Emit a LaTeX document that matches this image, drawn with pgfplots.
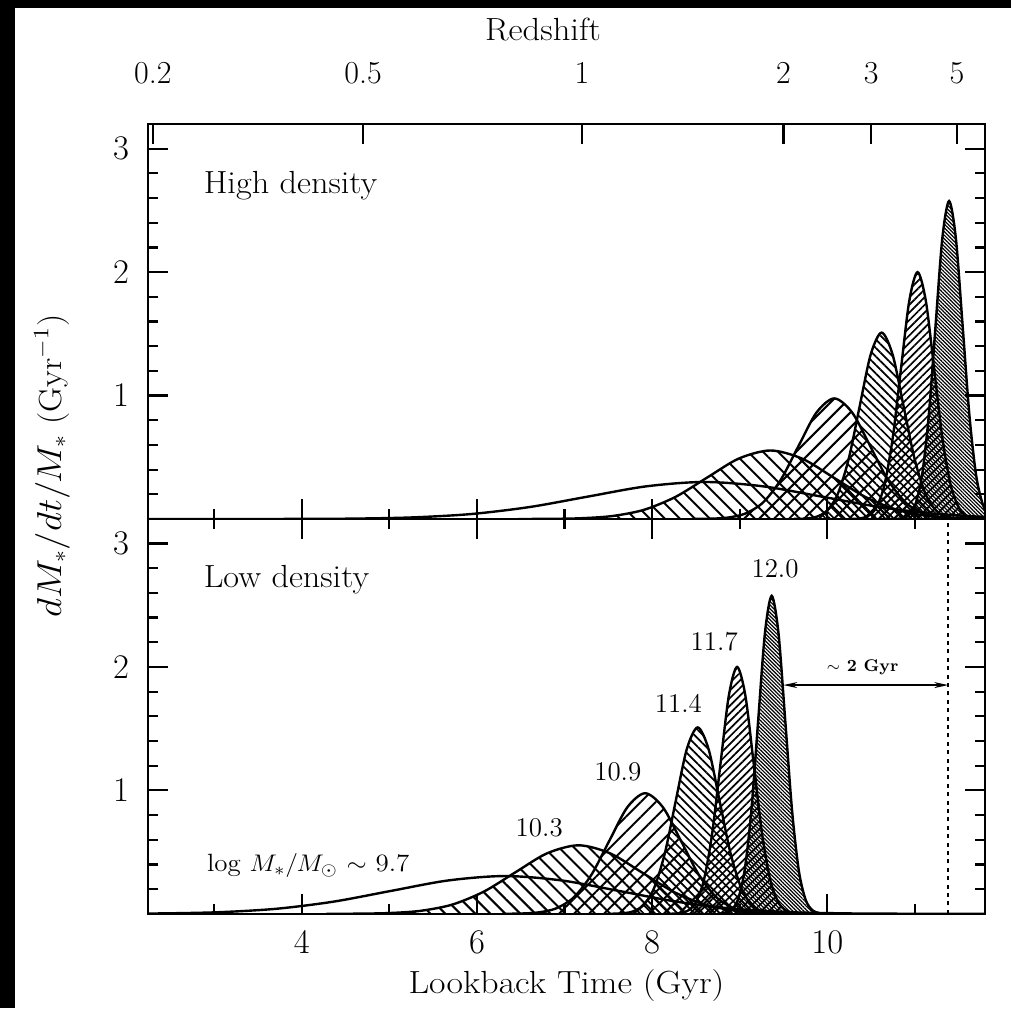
\documentclass[border=0pt]{standalone}
\usepackage{pgfplots}
\pgfplotsset{compat=1.18}
\usepackage{graphicx}
\usetikzlibrary{patterns.meta,arrows.meta}
\newcommand{\lab}{\fontsize{16}{19}\selectfont}
\pgfplotsset{panel/.style={
  scale only axis, width=418.5pt, height=197.5pt,
  xmin=2.245, xmax=11.8, ymin=0, ymax=3.2,
  axis line style={line width=1.3pt},
  every tick/.append style={line width=1.1pt, black},
  tick align=inside, major tick length=10pt, minor tick length=5pt,
  ytick={1,2,3}, minor ytick={0.2,0.4,0.6,0.8,1.2,1.4,1.6,1.8,2.2,2.4,2.6,2.8},
  xtick={4,6,8,10}, minor xtick={3,5,7,9,11},
  yticklabel style={font=\lab, anchor=east, inner sep=0pt, xshift=-9.3pt},
  xticklabel style={font=\lab, anchor=north, inner sep=0pt, yshift=-8.6pt},
  clip=true},
 c97/.style={draw=black, line width=1.2pt, smooth, no marks},
 c103/.style={draw=black, line width=1.2pt, smooth, no marks, pattern color=black, pattern={Lines[angle=-45,distance=5.3pt,line width=1pt]}},
 c109/.style={draw=black, line width=1.2pt, smooth, no marks, pattern color=black, pattern={Lines[angle=45,distance=5.3pt,line width=1pt]}},
 c114/.style={draw=black, line width=1.2pt, smooth, no marks, pattern color=black, pattern={Lines[angle=-45,distance=3pt,line width=0.85pt]}},
 c117/.style={draw=black, line width=1.2pt, smooth, no marks, pattern color=black, pattern={Lines[angle=45,distance=2.7pt,line width=0.85pt]}},
 c120/.style={draw=black, line width=1.2pt, smooth, no marks, pattern color=black, pattern={Lines[angle=-45,distance=1.3pt,line width=0.6pt]}}
}
\begin{document}
\begin{tikzpicture}
\useasboundingbox (0,0) rectangle (505.5pt,504pt);
\fill[white] (0,0) rectangle (505.5pt,504pt);
\fill[black] (0,0) rectangle (7.5pt,504pt);
\fill[black] (0,500pt) rectangle (505.5pt,504pt);

% ---------- bottom panel: low density ----------
\begin{axis}[panel, at={(74pt,47.1pt)}, anchor=south west]
\addplot[c97] coordinates {(0.5,0) (1.12,0.0001) (1.77,0.0007) (2.42,0.0034) (3.07,0.0134) (3.72,0.0414) (4.37,0.0994) (5.02,0.1856) (5.67,0.2700) (6.32,0.306) (6.97,0.2700) (7.62,0.1856) (8.27,0.0994) (8.92,0.0414) (9.57,0.0134) (10.22,0.0034) (10.87,0.0007) (11.52,0.0001) (12.2,0)};
\addplot[c103] coordinates {(4.28,0.0002) (4.64,0.0012) (5.00,0.0062) (5.36,0.0244) (5.72,0.0751) (6.08,0.1802) (6.44,0.3366) (6.80,0.4898) (7.16,0.555) (7.52,0.4898) (7.88,0.3366) (8.24,0.1802) (8.60,0.0751) (8.96,0.0244) (9.32,0.0062) (9.68,0.0012) (10.04,0.0002)};
\addplot[c109] coordinates {(6.288,0.0003) (6.492,0.0021) (6.696,0.0108) (6.90,0.0429) (7.104,0.1322) (7.308,0.3172) (7.512,0.5926) (7.716,0.8622) (7.92,0.977) (8.124,0.8622) (8.328,0.5926) (8.532,0.3172) (8.736,0.1322) (8.94,0.0429) (9.144,0.0108) (9.348,0.0021) (9.552,0.0003)};
\addplot[c114] coordinates {(7.52,0.0005) (7.645,0.0033) (7.77,0.0168) (7.895,0.0663) (8.02,0.2043) (8.145,0.4903) (8.27,0.9158) (8.395,1.3326) (8.52,1.51) (8.645,1.3326) (8.77,0.9158) (8.895,0.4903) (9.02,0.2043) (9.145,0.0663) (9.27,0.0168) (9.395,0.0033) (9.52,0.0005)};
\addplot[c117] coordinates {(8.21,0.0006) (8.305,0.0044) (8.40,0.0222) (8.495,0.0878) (8.59,0.2706) (8.685,0.6494) (8.78,1.2130) (8.875,1.765) (8.97,2.0) (9.065,1.765) (9.16,1.2130) (9.255,0.6494) (9.35,0.2706) (9.445,0.0878) (9.54,0.0222) (9.635,0.0044) (9.73,0.0006)};
\addplot[c120] coordinates {(8.745,0.0008) (8.8225,0.0057) (8.90,0.0286) (8.9775,0.1131) (9.055,0.3485) (9.1325,0.8364) (9.21,1.5623) (9.2875,2.2733) (9.365,2.576) (9.4425,2.2733) (9.52,1.5623) (9.5975,0.8364) (9.675,0.3485) (9.7525,0.1131) (9.83,0.0286) (9.9075,0.0057) (9.985,0.0008)};
\addplot[black, line width=0.8pt, dash pattern=on 2pt off 2.2pt] coordinates {(11.38,0) (11.38,3.2)};
\draw[{Stealth[length=7pt,width=3pt]}-{Stealth[length=7pt,width=3pt]}, line width=0.7pt] (axis cs:9.498,1.853) -- (axis cs:11.38,1.853);
\node[anchor=base, font=\fontsize{8.5}{10}\selectfont\bfseries] at (axis cs:10.403,1.96) {$\sim$ 2 Gyr};
\node[anchor=base west, font=\lab] at (axis cs:2.801,2.644) {\scalebox{1.07}[1]{Low density}};
\node[anchor=base, font=\fontsize{13.5}{15}\selectfont] at (axis cs:9.403,2.725) {12.0};
\node[anchor=base, font=\fontsize{13.5}{15}\selectfont] at (axis cs:8.709,2.136) {11.7};
\node[anchor=base, font=\fontsize{13.5}{15}\selectfont] at (axis cs:8.299,1.632) {11.4};
\node[anchor=base, font=\fontsize{13.5}{15}\selectfont] at (axis cs:7.608,1.083) {10.9};
\node[anchor=base, font=\fontsize{13.5}{15}\selectfont] at (axis cs:6.711,0.630) {10.3};
\node[anchor=base west, font=\fontsize{12.5}{14}\selectfont] at (axis cs:2.839,0.341) {\scalebox{1.08}[1]{log $M_{\ast}/M_{\odot}$ $\sim$ 9.7}};
\end{axis}

% ---------- top panel: high density ----------
\begin{axis}[panel, at={(74pt,244.5pt)}, anchor=south west, xtick pos=left, xticklabels={}]
\addplot[c97] coordinates {(2.0,0) (3.28,0.0001) (3.945,0.0007) (4.61,0.0033) (5.275,0.0132) (5.94,0.0406) (6.605,0.0974) (7.27,0.1820) (7.935,0.2648) (8.6,0.30) (9.265,0.2648) (9.93,0.1820) (10.595,0.0974) (11.26,0.0406) (11.925,0.0132) (12.59,0.0033)};
\addplot[c103] coordinates {(6.47,0.0002) (6.83,0.0012) (7.19,0.0062) (7.55,0.0244) (7.91,0.0751) (8.27,0.1802) (8.63,0.3366) (8.99,0.4898) (9.35,0.555) (9.71,0.4898) (10.07,0.3366) (10.43,0.1802) (10.79,0.0751) (11.15,0.0244) (11.51,0.0062) (11.87,0.0012) (12.23,0.0002)};
\addplot[c109] coordinates {(8.448,0.0003) (8.652,0.0021) (8.856,0.0108) (9.06,0.0429) (9.264,0.1322) (9.468,0.3172) (9.672,0.5926) (9.876,0.8622) (10.08,0.977) (10.284,0.8622) (10.488,0.5926) (10.692,0.3172) (10.896,0.1322) (11.10,0.0429) (11.304,0.0108) (11.508,0.0021) (11.712,0.0003)};
\addplot[c114] coordinates {(9.62,0.0005) (9.745,0.0033) (9.87,0.0168) (9.995,0.0663) (10.12,0.2043) (10.245,0.4903) (10.37,0.9158) (10.495,1.3326) (10.62,1.51) (10.745,1.3326) (10.87,0.9158) (10.995,0.4903) (11.12,0.2043) (11.245,0.0663) (11.37,0.0168) (11.495,0.0033) (11.62,0.0005)};
\addplot[c117] coordinates {(10.27,0.0006) (10.365,0.0044) (10.46,0.0222) (10.555,0.0878) (10.65,0.2706) (10.745,0.6494) (10.84,1.2130) (10.935,1.765) (11.03,2.0) (11.125,1.765) (11.22,1.2130) (11.315,0.6494) (11.41,0.2706) (11.505,0.0878) (11.60,0.0222) (11.695,0.0044) (11.79,0.0006)};
\addplot[c120] coordinates {(10.77,0.0008) (10.8475,0.0057) (10.925,0.0286) (11.0025,0.1131) (11.08,0.3485) (11.1575,0.8364) (11.235,1.5623) (11.3125,2.2733) (11.39,2.576) (11.4675,2.2733) (11.545,1.5623) (11.6225,0.8364) (11.70,0.3485) (11.7775,0.1131) (11.855,0.0286) (11.9325,0.0057) (12.01,0.0008)};
\node[anchor=base west, font=\lab] at (axis cs:2.801,2.637) {\scalebox{1.07}[1]{High density}};
\end{axis}

% ---------- redshift axis on top ----------
\begin{axis}[scale only axis, width=418.5pt, height=197.5pt, at={(74pt,244.5pt)}, anchor=south west,
  xmin=2.245, xmax=11.8, ymin=0, ymax=3.2, hide y axis,
  axis line style={line width=1.3pt},
  every tick/.append style={line width=1.1pt, black},
  tick align=inside, major tick length=10pt,
  xtick pos=right, xticklabel pos=right,
  xtick={2.30,4.70,7.20,9.50,10.50,11.48}, xticklabels={0.2,0.5,1,2,3,5}, minor xtick={},
  xticklabel style={font=\lab, anchor=south, inner sep=0pt, yshift=20pt}]
\end{axis}

\node[anchor=center, font=\lab] at (271.5pt,489pt) {\scalebox{1.08}[1]{Redshift}};
\node[anchor=base, font=\lab] at (283.25pt,7.5pt) {\scalebox{1.12}[1]{Lookback Time (Gyr)}};
\node[anchor=center, rotate=90, font=\lab] at (26pt,271pt) {\scalebox{1.08}[1]{$dM_{\ast}/dt/M_{\ast}$ (Gyr$^{-1}$)}};
\end{tikzpicture}
\end{document}
